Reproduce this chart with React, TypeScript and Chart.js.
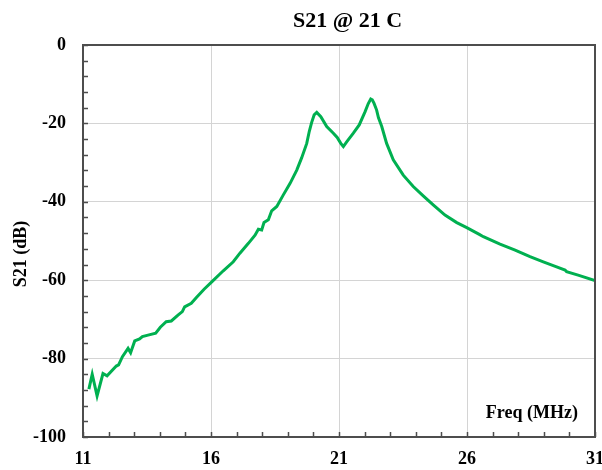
import React, { useEffect, useRef } from 'react';
import { Chart, registerables } from 'chart.js';

Chart.register(...registerables);

const TITLE = 'S21 @ 21 C';
const X_TITLE = 'Freq (MHz)';
const Y_TITLE = 'S21 (dB)';

const X_MIN = 11;
const X_MAX = 31;
const X_MAJOR = 5;
const X_MINOR = 1;
const Y_MIN = -100;
const Y_MAX = 0;
const Y_MAJOR = 20;
const Y_MINOR = 4;

const freq = [
  11.23, 11.36, 11.55, 11.78, 11.94, 12.3, 12.39, 12.54, 12.76, 12.86,
  13.02, 13.21, 13.32, 13.54, 13.84, 14.02, 14.25, 14.45, 14.71, 14.88,
  14.97, 15.23, 15.43, 15.73, 16.05, 16.48, 16.87, 17.13, 17.46, 17.72,
  17.85, 17.98, 18.07, 18.24, 18.37, 18.57, 18.82, 19.09, 19.35, 19.54,
  19.74, 19.84, 19.93, 20.03, 20.13, 20.29, 20.52, 20.78, 20.93, 21.07,
  21.17, 21.3, 21.56, 21.79, 22.02, 22.14, 22.24, 22.3, 22.37, 22.47,
  22.54, 22.67, 22.86, 23.12, 23.51, 23.9, 24.29, 24.68, 25.14, 25.6,
  25.99, 26.48, 26.64, 27.29, 27.88, 28.46, 28.98, 29.5, 29.83, 29.89,
  30.34, 31.0,
];

const s21 = [
  -87.8, -84.0, -89.5, -83.8, -84.4, -81.9, -81.6, -79.5, -77.4, -78.5,
  -75.5, -75.0, -74.4, -74.0, -73.5, -72.0, -70.6, -70.4, -68.9, -68.0,
  -66.8, -65.9, -64.4, -62.3, -60.3, -57.6, -55.3, -53.1, -50.6, -48.5,
  -47.0, -47.2, -45.3, -44.6, -42.3, -41.2, -38.3, -35.3, -31.9, -28.8,
  -25.1, -22.0, -19.8, -17.8, -17.2, -18.3, -20.8, -22.5, -23.6, -25.1,
  -25.9, -24.7, -22.5, -20.4, -17.0, -15.0, -13.8, -14.0, -14.9, -16.6,
  -18.5, -20.8, -25.1, -29.3, -33.2, -36.1, -38.5, -40.8, -43.4, -45.3,
  -46.6, -48.3, -48.9, -50.8, -52.3, -54.0, -55.3, -56.6, -57.4, -57.8,
  -58.7, -60.1,
];

const FONT = "'Liberation Serif', 'Times New Roman', serif";
const LINE_COLOR = '#00b050';
const FRAME_COLOR = '#4d4d4d';
const GRID_COLOR = '#d4d4d4';

const framePlugin = {
  id: 'frameAndLabels',
  afterDraw(chart: any) {
    const { ctx, chartArea: a, scales } = chart;
    const x = scales.x;
    const y = scales.y;
    ctx.save();
    ctx.strokeStyle = FRAME_COLOR;
    ctx.lineWidth = 1.5;
    const tickLen = 5;
    ctx.beginPath();
    for (let v = X_MIN; v <= X_MAX + 1e-9; v += X_MINOR) {
      const px = Math.round(x.getPixelForValue(v)) + 0.5;
      ctx.moveTo(px, a.bottom);
      ctx.lineTo(px, a.bottom - tickLen);
    }
    for (let v = Y_MIN; v <= Y_MAX + 1e-9; v += Y_MINOR) {
      const py = Math.round(y.getPixelForValue(v)) + 0.5;
      ctx.moveTo(a.left, py);
      ctx.lineTo(a.left + tickLen, py);
    }
    ctx.stroke();
    ctx.lineWidth = 2;
    ctx.strokeRect(a.left, a.top, a.right - a.left, a.bottom - a.top);

    ctx.fillStyle = '#000';
    // x-axis title inside the plot, bottom right
    ctx.font = `bold 18px ${FONT}`;
    ctx.textAlign = 'right';
    ctx.textBaseline = 'middle';
    ctx.fillText(X_TITLE, a.right - 17, a.bottom - 24);

    // chart title
    ctx.font = `bold 22px ${FONT}`;
    ctx.textAlign = 'center';
    ctx.textBaseline = 'alphabetic';
    ctx.fillText(TITLE, (a.left + a.right) / 2 + 8.5, a.top - 18);

    // y-axis title
    ctx.translate(21, (a.top + a.bottom) / 2 + 13);
    ctx.rotate(-Math.PI / 2);
    ctx.font = `bold 18px ${FONT}`;
    ctx.textAlign = 'center';
    ctx.textBaseline = 'middle';
    ctx.fillText(Y_TITLE, 0, 0);
    ctx.restore();
  },
};

export default function App() {
  const ref = useRef<HTMLCanvasElement | null>(null);

  useEffect(() => {
    document.body.style.margin = '0';
    const canvas = ref.current;
    if (!canvas) return;
    const points = freq.map((f, i) => ({ x: f, y: s21[i] }));
    const chart = new Chart(canvas, {
      type: 'line',
      data: {
        datasets: [
          {
            data: points,
            borderColor: LINE_COLOR,
            backgroundColor: LINE_COLOR,
            borderWidth: 3,
            pointRadius: 0,
            tension: 0,
            fill: false,
          },
        ],
      },
      options: {
        animation: false,
        responsive: false,
        devicePixelRatio: 1,
        layout: { padding: { left: 0, right: 7, top: 45, bottom: 0 } },
        plugins: {
          legend: { display: false },
          tooltip: { enabled: false },
          title: { display: false },
        },
        scales: {
          x: {
            type: 'linear',
            min: X_MIN,
            max: X_MAX,
            afterFit(scale: any) {
              scale.height = 33;
              scale.paddingLeft = 0;
              scale.paddingRight = 0;
            },
            ticks: {
              stepSize: X_MAJOR,
              color: '#000',
              padding: 12,
              maxRotation: 0,
              autoSkip: false,
              font: { family: FONT, size: 18, weight: 'bold' },
            },
            grid: { color: GRID_COLOR, lineWidth: 1, drawTicks: false },
            border: { display: false },
          },
          y: {
            type: 'linear',
            min: Y_MIN,
            max: Y_MAX,
            afterFit(scale: any) {
              scale.width = 83;
              scale.paddingTop = 0;
              scale.paddingBottom = 0;
            },
            ticks: {
              stepSize: Y_MAJOR,
              color: '#000',
              padding: 17,
              font: { family: FONT, size: 18, weight: 'bold' },
            },
            grid: { color: GRID_COLOR, lineWidth: 1, drawTicks: false },
            border: { display: false },
          },
        },
      },
      plugins: [framePlugin],
    });
    return () => chart.destroy();
  }, []);

  return (
    <div style={{ width: 602, height: 470 }}>
      <canvas ref={ref} width={602} height={470} style={{ display: 'block' }} />
    </div>
  );
}
